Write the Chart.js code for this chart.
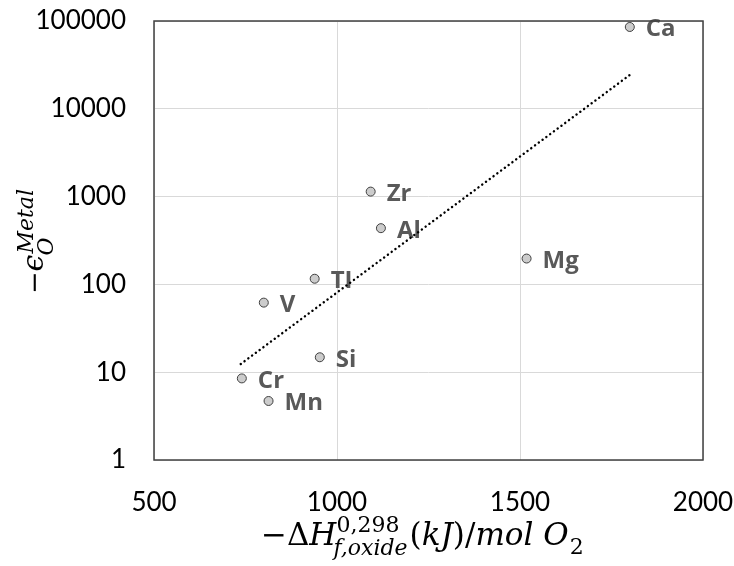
<!DOCTYPE html>
<html>
<head>
<meta charset="utf-8">
<script src="https://cdn.jsdelivr.net/npm/chart.js@4.4.1/dist/chart.umd.min.js"></script>
<style>
  html, body { margin: 0; padding: 0; background: #fff; }
  #wrap { width: 734px; height: 566px; }
</style>
</head>
<body>
<div id="wrap"><canvas id="myChart" width="734" height="566"></canvas></div>
<script>
// Metals and their values
var metals = ["Ca", "Zr", "Al", "Mg", "TI", "V", "Si", "Cr", "Mn"];
var enthalpy = [1800, 1092, 1120, 1518, 939, 800, 953, 740, 813];
var epsilon = [85500, 1140, 437, 197, 116, 62, 14.8, 8.5, 4.7];

// Dotted trend line end points
var trendX = [737, 1800];
var trendY = [12.4, 24300];

// Axis ticks
var xTicks = [500, 1000, 1500, 2000];
var yTicks = [1, 10, 100, 1000, 10000, 100000];

var mathFont = "'DejaVu Serif', 'Liberation Serif', serif";

// draws a list of text runs: [text, italic, size, baselineShift]
function drawRuns(ctx, runs, x, y) {
    var cx = x;
    runs.forEach(function (r) {
        ctx.font = (r[1] ? "italic " : "") + r[2] + "px " + mathFont;
        ctx.fillText(r[0], cx, y + r[3]);
        cx += ctx.measureText(r[0]).width;
    });
    return cx;
}

var extrasPlugin = {
    id: "extras",
    beforeDatasetsDraw: function (chart) {
        var ctx = chart.ctx;
        var xs = chart.scales.x, ys = chart.scales.y;
        ctx.save();
        ctx.fillStyle = "#595959";
        ctx.font = "bold 24px 'Open Sans'";
        ctx.textBaseline = "alphabetic";
        ctx.textAlign = "left";
        for (var i = 0; i < metals.length; i++) {
            var px = xs.getPixelForValue(enthalpy[i]);
            var py = ys.getPixelForValue(epsilon[i]);
            ctx.fillText(metals[i], px + 16, py + 9.5);
        }
        ctx.restore();
    },
    afterDraw: function (chart) {
        var ctx = chart.ctx;
        var a = chart.chartArea;
        ctx.save();
        // plot area frame
        ctx.strokeStyle = "#404040";
        ctx.lineWidth = 1.5;
        ctx.strokeRect(a.left, a.top, a.right - a.left, a.bottom - a.top);

        ctx.fillStyle = "#000";
        ctx.textBaseline = "alphabetic";
        ctx.textAlign = "left";

        // x axis title
        var x = 261, y = 545;
        x = drawRuns(ctx, [["\u2212\u0394", false, 31, 0], ["H", true, 31, 0]], x, y);
        var sx = x;
        var e1 = drawRuns(ctx, [["0,298", false, 22, -13]], sx, y);
        var e2 = drawRuns(ctx, [["f,oxide", true, 22, 10]], sx - 3, y);
        x = Math.max(e1, e2) + 2;
        x = drawRuns(ctx, [["(", false, 31, 0], ["kJ", true, 31, 0], [")/", false, 31, 0],
                           ["mol O", true, 31, 0]], x, y);
        drawRuns(ctx, [["2", false, 22, 9]], x + 1, y);

        // y axis title, rotated
        ctx.translate(43, 294);
        ctx.rotate(-Math.PI / 2);
        var u = drawRuns(ctx, [["\u2212", false, 27, 0], ["\u03F5", true, 30, 0]], 0, 0);
        drawRuns(ctx, [["Metal", true, 22, -10]], u + 1, 0);
        drawRuns(ctx, [["O", true, 22, 10]], u - 1, 0);
        ctx.restore();
    }
};

var ctx = document.getElementById("myChart");
var myChart = new Chart(ctx, {
    type: "scatter",
    data: {
        datasets: [{
            label: "Trend",
            type: "line",
            data: trendX.map(function (v, i) { return { x: v, y: trendY[i] }; }),
            borderColor: "#000",
            borderWidth: 2.4,
            borderCapStyle: "round",
            borderDash: [0.1, 4.6],
            pointRadius: 0,
            fill: false,
            tension: 0
        },
        {
            label: "Metals",
            data: enthalpy.map(function (v, i) { return { x: v, y: epsilon[i] }; }),
            pointRadius: 4.5,
            pointBackgroundColor: "#cccccc",
            pointBorderColor: "#404040",
            pointBorderWidth: 1
        }]
    },
    options: {
        responsive: false,
        animation: false,
        layout: { padding: { left: 0, right: 31, top: 21, bottom: 0 } },
        plugins: {
            legend: { display: false },
            tooltip: { enabled: false }
        },
        scales: {
            x: {
                type: "linear",
                min: 500,
                max: 2000,
                afterBuildTicks: function (axis) {
                    axis.ticks = xTicks.map(function (v) { return { value: v }; });
                },
                afterFit: function (axis) {
                    axis.height = 106;
                    axis.paddingLeft = 0;
                    axis.paddingRight = 0;
                },
                grid: { color: "#d9d9d9", lineWidth: 1, drawTicks: false },
                border: { display: false },
                ticks: {
                    padding: 27,
                    color: "#000",
                    font: { family: "Lato", size: 26 },
                    maxRotation: 0,
                    callback: function (value) { return String(value); }
                }
            },
            y: {
                type: "logarithmic",
                min: 1,
                max: 100000,
                afterBuildTicks: function (axis) {
                    axis.ticks = yTicks.map(function (v) { return { value: v }; });
                },
                afterFit: function (axis) {
                    axis.width = 154;
                    axis.paddingTop = 0;
                    axis.paddingBottom = 0;
                },
                grid: { color: "#d9d9d9", lineWidth: 1, drawTicks: false },
                border: { display: false },
                ticks: {
                    padding: 28,
                    color: "#000",
                    font: { family: "Lato", size: 26 },
                    callback: function (value) { return String(value); }
                }
            }
        }
    },
    plugins: [extrasPlugin]
});
</script>
</body>
</html>
